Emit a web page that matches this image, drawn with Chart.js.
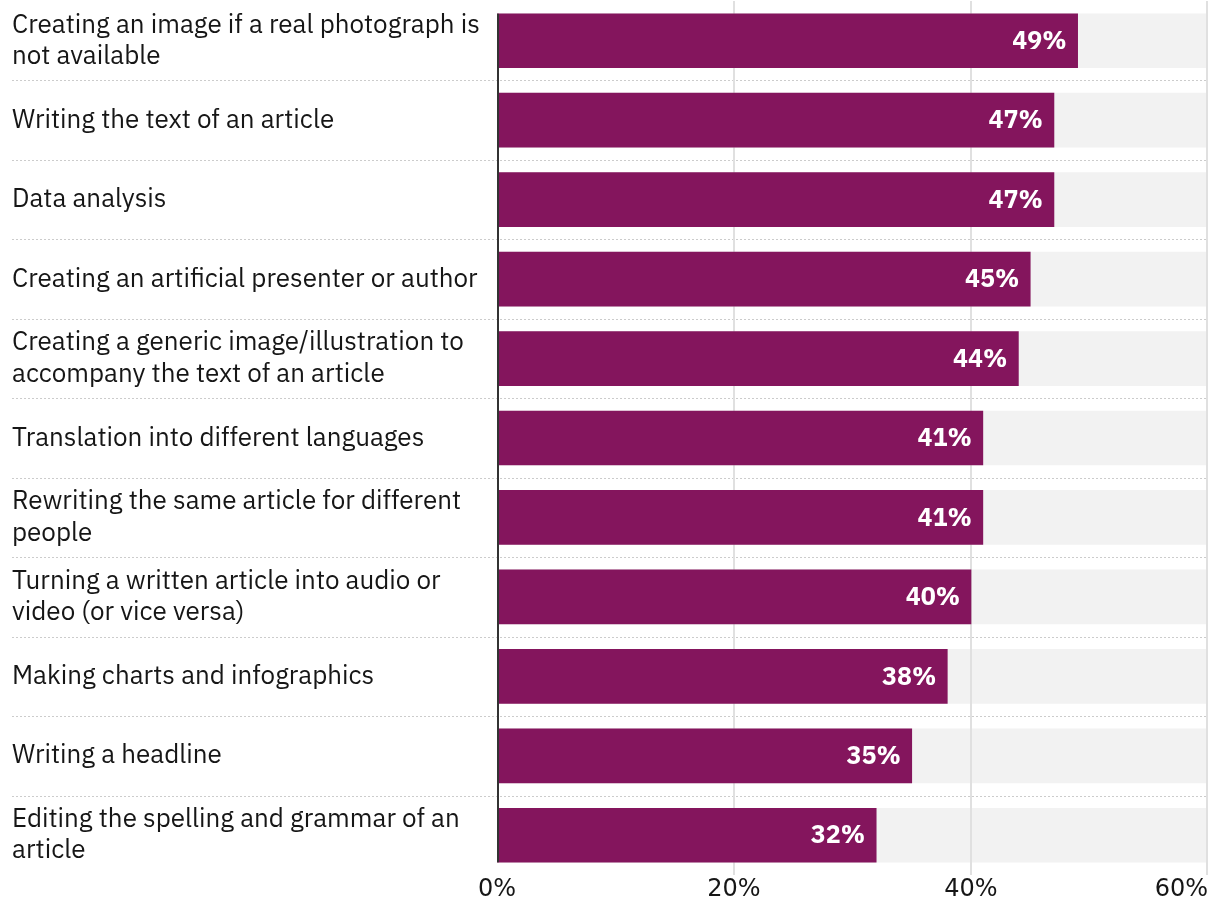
<!DOCTYPE html>
<html>
<head>
<meta charset="utf-8">
<script src="https://cdn.jsdelivr.net/npm/chart.js@4.4.1/dist/chart.umd.min.js"></script>
<style>
    html, body { margin: 0; padding: 0; background: #fff; }
    #caixa { width: 1220px; height: 914px; }
</style>
</head>
<body>
<div id="caixa"><canvas id="graficoUsos"></canvas></div>
<script>
const categorias = [
    ['Creating an image if a real photograph is', 'not available'],
    'Writing the text of an article',
    'Data analysis',
    'Creating an artificial presenter or author',
    ['Creating a generic image/illustration to', 'accompany the text of an article'],
    'Translation into different languages',
    ['Rewriting the same article for different', 'people'],
    ['Turning a written article into audio or', 'video (or vice versa)'],
    'Making charts and infographics',
    'Writing a headline',
    ['Editing the spelling and grammar of an', 'article']
];
const valores = [49, 47, 47, 45, 44, 41, 41, 40, 38, 35, 32];
const fundo = [60, 60, 60, 60, 60, 60, 60, 60, 60, 60, 60];
const ticksX = [0, 20, 40, 60];

const corBarra = '#84155d';
const corFundo = '#f2f2f2';
const corTexto = '#161616';
const fonteTexto = '"IBM Plex Sans", "Noto Sans", sans-serif';
const fonteEixo = '"DejaVu Sans", sans-serif';

// desenhos extra: separadores pontilhados, grelha, eixo do zero, valores
const desenhos = {
    id: 'desenhos',
    beforeDatasetsDraw(chart) {
        const { ctx, chartArea } = chart;
        const y = chart.scales.y;
        ctx.save();
        ctx.strokeStyle = '#cccccc';
        ctx.lineWidth = 1;
        ctx.setLineDash([2, 2]);
        for (let i = 0; i < categorias.length - 1; i++) {
            const yy = Math.round((y.getPixelForValue(i) + y.getPixelForValue(i + 1)) / 2) + 0.5;
            ctx.beginPath();
            ctx.moveTo(12, yy);
            ctx.lineTo(chartArea.right, yy);
            ctx.stroke();
        }
        ctx.restore();
    },
    afterDatasetDraw(chart, args) {
        if (args.index !== 1) return;
        const { ctx, chartArea } = chart;
        const x = chart.scales.x;
        ctx.save();
        ctx.strokeStyle = '#e0e0e0';
        ctx.lineWidth = 2;
        ticksX.forEach(function (v) {
            if (v === 0) return;
            const px = Math.min(x.getPixelForValue(v), chartArea.right - 1);
            ctx.beginPath();
            ctx.moveTo(px, chartArea.top);
            ctx.lineTo(px, chartArea.bottom);
            ctx.stroke();
        });
        ctx.restore();
    },
    afterDatasetsDraw(chart) {
        const { ctx } = chart;
        const x = chart.scales.x;
        const barras = chart.getDatasetMeta(0).data;
        const primeira = barras[0];
        const ultima = barras[barras.length - 1];
        ctx.save();
        // eixo do zero
        ctx.strokeStyle = '#333333';
        ctx.lineWidth = 2;
        const x0 = x.getPixelForValue(0) + 1;
        ctx.beginPath();
        ctx.moveTo(x0, primeira.y - primeira.height / 2);
        ctx.lineTo(x0, ultima.y + ultima.height / 2);
        ctx.stroke();
        // valores dentro das barras
        ctx.fillStyle = '#ffffff';
        ctx.font = 'bold 25px ' + fonteTexto;
        ctx.textAlign = 'right';
        ctx.textBaseline = 'middle';
        barras.forEach(function (barra, i) {
            ctx.fillText(valores[i] + '%', barra.x - 11, barra.y + 1);
        });
        ctx.restore();
    },
    afterDraw(chart) {
        const { ctx, chartArea } = chart;
        const x = chart.scales.x;
        ctx.save();
        ctx.fillStyle = corTexto;
        ctx.font = '24px ' + fonteEixo;
        ctx.textBaseline = 'middle';
        ticksX.forEach(function (v) {
            const texto = v + '%';
            const px = x.getPixelForValue(v);
            const largura = ctx.measureText(texto).width;
            ctx.textAlign = 'left';
            const inicio = Math.min(px - largura / 2, chartArea.right - largura);
            ctx.fillText(texto, inicio, 890);
        });
        ctx.restore();
    }
};

document.addEventListener("DOMContentLoaded", function () {
    const ctxUsos = document.getElementById('graficoUsos');
    new Chart(ctxUsos.getContext('2d'), {
        type: 'bar',
        data: {
            labels: categorias,
            datasets: [
                {
                    label: 'Percentagem',
                    data: valores,
                    backgroundColor: corBarra,
                    barThickness: 54,
                    grouped: false
                },
                {
                    label: 'Fundo',
                    data: fundo,
                    backgroundColor: corFundo,
                    barThickness: 54,
                    grouped: false
                }
            ]
        },
        options: {
            indexAxis: 'y',
            responsive: true,
            maintainAspectRatio: false,
            animation: false,
            layout: {
                padding: { left: 12, right: 12, top: 1, bottom: 39 }
            },
            plugins: {
                legend: { display: false },
                tooltip: { enabled: false }
            },
            scales: {
                x: {
                    display: false,
                    min: 0,
                    max: 60
                },
                y: {
                    grid: { display: false },
                    border: { display: false },
                    ticks: {
                        crossAlign: 'far',
                        color: corTexto,
                        font: { family: fonteTexto, size: 26, lineHeight: 1.2 }
                    },
                    afterFit: function (scale) {
                        scale.width = 485;
                        scale.paddingTop = 0;
                        scale.paddingBottom = 0;
                    }
                }
            }
        },
        plugins: [desenhos]
    });
});
</script>
</body>
</html>
